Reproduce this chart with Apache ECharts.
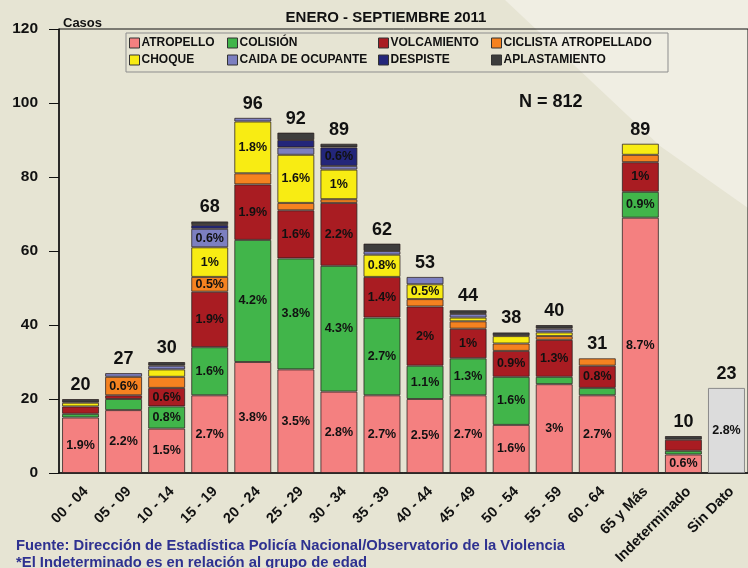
<!DOCTYPE html>
<html>
<head>
<meta charset="utf-8">
<script src="https://cdn.jsdelivr.net/npm/echarts@6/dist/echarts.min.js"></script>
<style>
html,body{margin:0;padding:0;background:#e6e4d3;}
#chart{width:748px;height:568px;}
</style>
</head>
<body>
<div id="chart"></div>
<script>
const categories = ['00 - 04','05 - 09','10 - 14','15 - 19','20 - 24','25 - 29','30 - 34','35 - 39','40 - 44','45 - 49','50 - 54','55 - 59','60 - 64','65 y Más','Indeterminado','Sin Dato'];
const atropello    = [15,17,12,21,30,28,22,21,20,21,13,24,21,69,5,0];
const colision     = [1,3,6,13,33,30,34,21,9,10,13,2,2,7,1,0];
const volcamiento  = [2,1,5,15,15,13,17,11,16,8,7,10,6,8,3,0];
const ciclista     = [0,5,3,4,3,2,1,0,2,2,2,1,2,2,0,0];
const choque       = [1,0,2,8,14,13,8,6,4,1,2,1,0,3,0,0];
const caida        = [0,1,1,5,1,2,1,1,2,1,0,1,0,0,0,0];
const despiste     = [0,0,0,1,0,2,5,0,0,0,0,0,0,0,0,0];
const aplastamiento= [1,0,1,1,0,2,1,2,0,1,1,1,0,0,1,0];
const sinDato      = [0,0,0,0,0,0,0,0,0,0,0,0,0,0,0,23];

const atropelloPct   = ['1.9%','2.2%','1.5%','2.7%','3.8%','3.5%','2.8%','2.7%','2.5%','2.7%','1.6%','3%','2.7%','8.7%','0.6%',''];
const colisionPct    = ['','','0.8%','1.6%','4.2%','3.8%','4.3%','2.7%','1.1%','1.3%','1.6%','','','0.9%','',''];
const volcamientoPct = ['','','0.6%','1.9%','1.9%','1.6%','2.2%','1.4%','2%','1%','0.9%','1.3%','0.8%','1%','',''];
const ciclistaPct    = ['','0.6%','','0.5%','','','','','','','','','','','',''];
const choquePct      = ['','','','1%','1.8%','1.6%','1%','0.8%','0.5%','','','','','','',''];
const caidaPct       = ['','','','0.6%','','','','','','','','','','','',''];
const despistePct    = ['','','','','','','0.6%','','','','','','','','',''];
const aplastPct      = ['','','','','','','','','','','','','','','',''];
const sinDatoPct     = ['','','','','','','','','','','','','','','','2.8%'];

const yTicks = [0,20,40,60,80,100,120];
const nTotal = 'N = 812';

const FONT = "'Liberation Sans', Arial, sans-serif";
const seriesDefs = [
  {name:'ATROPELLO', data:atropello, pct:atropelloPct, color:'#f48080'},
  {name:'COLISIÓN', data:colision, pct:colisionPct, color:'#41b54a'},
  {name:'VOLCAMIENTO', data:volcamiento, pct:volcamientoPct, color:'#a91c22'},
  {name:'CICLISTA ATROPELLADO', data:ciclista, pct:ciclistaPct, color:'#f58220'},
  {name:'CHOQUE', data:choque, pct:choquePct, color:'#f8ec13'},
  {name:'CAIDA DE OCUPANTE', data:caida, pct:caidaPct, color:'#7c7fc0'},
  {name:'DESPISTE', data:despiste, pct:despistePct, color:'#23267a'},
  {name:'APLASTAMIENTO', data:aplastamiento, pct:aplastPct, color:'#3d3d3d'},
  {name:'SIN DATO', data:sinDato, pct:sinDatoPct, color:'#dcdcdc'}
];

const totals = categories.map((c,i)=>seriesDefs.reduce((s,d)=>s+d.data[i],0));

const series = seriesDefs.map(d=>({
  name:d.name, type:'bar', stack:'t', barWidth:37,
  data:d.data.map(v=>v===0?'-':v),
  itemStyle:{color:d.color, borderColor: d.name==='SIN DATO' ? '#8a8a8a' : 'rgba(40,30,30,0.75)', borderWidth:1},
  label:{show:true, position:'inside', color:'#111', fontFamily:FONT, fontWeight:'bold', fontSize:12.5,
    textBorderWidth:0, formatter:p=>d.pct[p.dataIndex]}
}));
series.push({
  name:'total', type:'bar', stack:'t', barWidth:37,
  data:totals.map(()=>0),
  itemStyle:{color:'transparent', borderWidth:0},
  label:{show:true, position:'top', distance:5, color:'#111', fontFamily:FONT, fontWeight:'bold', fontSize:18,
    formatter:p=>String(totals[p.dataIndex])}
});

function legendCol(left, names){
  return {left:left, top:37, orient:'vertical', itemGap:5, itemWidth:10, itemHeight:10, padding:0, icon:'rect',
    data:names, itemStyle:{borderColor:'#333', borderWidth:1},
    textStyle:{fontFamily:FONT, fontWeight:'bold', fontSize:12, color:'#111', padding:[0,0,0,-3]}};
}

const chart = echarts.init(document.getElementById('chart'), null, {renderer:'canvas'});
chart.setOption({
  backgroundColor:'#e6e4d3',
  animation:false,
  textStyle:{fontFamily:FONT},
  grid:{left:59, top:29, width:691, height:444, show:true, borderColor:'#111', borderWidth:1, backgroundColor:'transparent'},
  legend:[
    legendCol(129,['ATROPELLO','CHOQUE']),
    legendCol(227,['COLISIÓN','CAIDA DE OCUPANTE']),
    legendCol(378,['VOLCAMIENTO','DESPISTE']),
    legendCol(491,['CICLISTA ATROPELLADO','APLASTAMIENTO'])
  ],
  xAxis:{type:'category', data:categories,
    axisLine:{lineStyle:{color:'#111', width:1.5}},
    axisTick:{alignWithLabel:true, length:9, lineStyle:{color:'#111'}},
    axisLabel:{interval:0, rotate:45, margin:11, color:'#111', fontFamily:FONT, fontWeight:'bold', fontSize:14.5, verticalAlign:'top'}},
  yAxis:{type:'value', min:yTicks[0], max:yTicks[yTicks.length-1], interval:20,
    axisLine:{show:true, lineStyle:{color:'#111', width:1.5}},
    axisTick:{show:true, length:10, lineStyle:{color:'#111'}},
    splitLine:{show:false},
    axisLabel:{margin:21, color:'#111', fontFamily:FONT, fontWeight:'bold', fontSize:15.5}},
  graphic:[
    {type:'polygon', z:-100, silent:true, shape:{points:[[505,0],[748,0],[748,208],[660,146]]}, style:{fill:'#f0eee3'}},
    {type:'rect', z:1, silent:true, shape:{x:126, y:33, width:542, height:39}, style:{fill:'transparent', stroke:'#8d8d8d', lineWidth:1}},
    {type:'text', x:386, y:10, style:{text:'ENERO - SEPTIEMBRE 2011', textAlign:'center', font:"bold 15px 'Liberation Sans', Arial, sans-serif", fill:'#111'}},
    {type:'text', left:63, top:17, style:{text:'Casos', font:"bold 13px 'Liberation Sans', Arial, sans-serif", fill:'#111'}},
    {type:'text', left:519, top:93, style:{text:nTotal, font:"bold 18px 'Liberation Sans', Arial, sans-serif", fill:'#111'}},
    {type:'text', left:16, top:538, style:{text:'Fuente: Dirección de Estadística Policía Nacional/Observatorio de la Violencia', font:"bold 14.8px 'Liberation Sans', Arial, sans-serif", fill:'#2e3190'}},
    {type:'text', left:16, top:555, style:{text:'*El Indeterminado es en relación al grupo de edad', font:"bold 14.8px 'Liberation Sans', Arial, sans-serif", fill:'#2e3190'}}
  ],
  series:series
});
</script>
</body>
</html>
